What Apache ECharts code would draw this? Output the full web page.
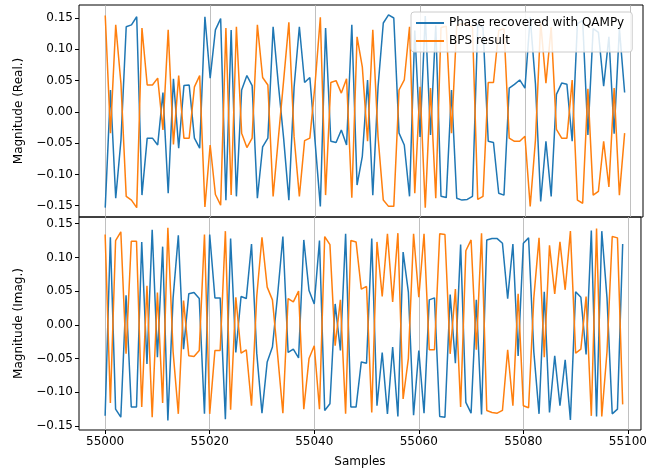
<!DOCTYPE html>
<html><head><meta charset="utf-8">
<script src="https://cdn.jsdelivr.net/npm/echarts@6/dist/echarts.min.js"></script>
<style>html,body{margin:0;padding:0;background:#fff}#c{width:650px;height:472px}</style>
</head><body><div id="c"></div>
<script>
const startSample = 55000;
const xTicks = [55000, 55020, 55040, 55060, 55080, 55100];
const yTicks = [-0.15, -0.10, -0.05, 0.00, 0.05, 0.10, 0.15];

const realQampy = [-0.153,0.035,-0.138,-0.045,0.136,0.139,0.152,-0.133,-0.042,-0.042,
-0.053,0.031,-0.130,0.053,-0.058,0.042,0.043,-0.042,-0.058,0.152,
0.054,0.131,0.149,-0.141,0.131,-0.135,0.035,0.058,0.042,-0.138,
-0.056,-0.042,0.136,0.044,-0.042,-0.141,0.040,0.136,0.047,0.055,
-0.048,-0.151,0.134,-0.047,-0.049,-0.029,-0.053,0.139,-0.117,-0.071,
0.051,-0.133,0.040,0.142,0.155,0.150,-0.034,-0.053,-0.135,0.130,
-0.040,0.153,-0.037,0.138,-0.135,-0.137,0.035,-0.138,-0.141,-0.140,
-0.135,0.140,0.135,-0.047,-0.049,-0.130,-0.133,0.038,0.044,0.051,
0.038,0.151,0.045,-0.143,-0.047,-0.135,0.028,0.046,0.044,-0.047,
0.141,0.146,-0.037,0.133,0.127,0.041,0.120,-0.035,0.133,0.031];

const realBps = [0.154,-0.034,0.139,0.045,-0.135,-0.141,-0.153,0.134,0.043,0.043,
0.054,-0.029,0.131,-0.052,0.058,-0.042,-0.042,0.040,0.058,-0.152,
-0.053,-0.132,-0.149,0.134,-0.133,0.136,-0.034,-0.057,-0.042,0.139,
0.055,0.043,-0.135,-0.042,0.050,0.143,-0.040,-0.135,-0.046,-0.042,
0.045,0.151,-0.133,0.047,0.050,0.030,0.053,-0.137,0.120,0.072,
-0.047,0.131,-0.040,-0.141,-0.151,-0.151,0.035,0.051,0.136,-0.130,
0.040,-0.153,0.038,-0.138,0.135,0.137,-0.034,0.138,0.141,0.140,
0.135,-0.140,-0.135,0.047,0.047,0.130,0.133,-0.042,-0.047,-0.047,
-0.039,-0.151,-0.045,0.143,0.046,0.135,-0.028,-0.042,-0.042,0.051,
-0.141,-0.146,0.037,-0.133,-0.127,-0.047,-0.120,0.038,-0.133,-0.034];

const imagQampy = [-0.135,0.130,-0.125,-0.137,0.044,-0.122,-0.122,0.123,-0.058,0.141,
-0.048,0.116,-0.142,0.040,0.133,-0.036,0.046,0.048,0.039,-0.132,
0.134,0.040,0.040,-0.140,0.128,-0.041,0.042,0.039,0.120,-0.042,
-0.131,-0.055,-0.033,0.045,0.131,-0.041,-0.036,-0.049,0.126,0.051,
0.031,0.125,-0.127,-0.117,0.031,-0.038,0.135,-0.122,-0.122,-0.055,
-0.057,0.128,-0.120,-0.041,-0.132,-0.033,-0.136,0.108,0.049,-0.134,
-0.038,-0.131,0.037,0.040,-0.136,-0.137,0.045,-0.057,0.119,-0.115,
-0.131,0.037,-0.133,0.126,0.128,0.128,0.121,0.039,0.120,-0.046,
0.121,0.129,-0.040,-0.132,0.049,-0.130,-0.046,-0.120,-0.052,-0.141,
0.049,0.041,-0.044,0.140,-0.136,0.139,0.040,-0.132,-0.125,0.120];

const imagBps = [0.134,-0.116,0.125,0.138,-0.043,0.124,0.124,-0.122,0.058,-0.137,
0.048,-0.116,0.144,-0.040,-0.132,0.036,-0.046,-0.047,-0.038,0.134,
-0.132,-0.038,-0.038,0.139,-0.126,0.041,-0.042,-0.037,-0.120,0.042,
0.130,0.056,0.037,-0.045,-0.131,0.039,0.034,0.050,-0.125,-0.050,
-0.031,-0.125,0.131,0.119,-0.031,0.037,-0.132,0.125,0.123,0.053,
0.057,-0.130,0.123,0.042,0.135,0.034,0.136,-0.110,-0.050,0.135,
0.041,0.135,-0.037,-0.037,0.135,0.134,-0.043,0.053,-0.122,0.110,
0.126,-0.037,0.136,-0.127,-0.130,-0.131,-0.127,-0.037,-0.120,0.046,
-0.120,-0.123,0.040,0.129,-0.048,0.118,0.046,0.123,0.052,0.139,
-0.042,-0.036,0.042,-0.135,0.143,-0.136,-0.040,0.131,0.129,-0.118];

const pairs = arr => arr.map((v, i) => [startSample + i, v]);
const FONT = 'DejaVu Sans';
const fmtY = v => v.toFixed(2).replace('-', '\u2212');

function yAxis(gi, min, max, name) {
  return {
    type: 'value', gridIndex: gi, min: min, max: max, name: name,
    nameLocation: 'middle', nameGap: 53, nameRotate: 90,
    nameTextStyle: {fontFamily: FONT, fontSize: 12, color: '#000'},
    axisLine: {show: false, onZero: false},
    axisTick: {show: true, length: 4, lineStyle: {color: '#000', width: 1}, customValues: yTicks},
    axisLabel: {fontFamily: FONT, fontSize: 12, color: '#000', margin: 6, formatter: fmtY, customValues: yTicks},
    splitLine: {show: false}
  };
}
function xAxis(gi, showLabels) {
  return {
    type: 'value', gridIndex: gi, position: 'bottom', min: 54995, max: 55102.5,
    name: showLabels ? 'Samples' : '', nameLocation: 'middle', nameGap: 26,
    nameTextStyle: {fontFamily: FONT, fontSize: 12, color: '#000'},
    axisLine: {show: false, onZero: false},
    axisTick: {show: showLabels, length: 4, lineStyle: {color: '#000', width: 1}, customValues: xTicks},
    axisLabel: {show: showLabels, fontFamily: FONT, fontSize: 12, color: '#000', margin: 6,
                formatter: v => String(v), customValues: xTicks},
    splitLine: {show: true, lineStyle: {color: '#b0b0b0', width: 0.8}}
  };
}
function line(name, data, color, xi, yi) {
  return {
    name: name, type: 'line', xAxisIndex: xi, yAxisIndex: yi, data: pairs(data),
    symbol: 'none', showSymbol: false, lineStyle: {color: color, width: 1.5}, itemStyle: {color: color},
    animation: false
  };
}
const chart = echarts.init(document.getElementById('c'), null, {renderer: 'canvas'});
chart.setOption({
  animation: false,
  grid: [
    {left: 79, right: 7, top: 5, height: 212, show: true, borderColor: '#000', borderWidth: 1, backgroundColor: 'transparent'},
    {left: 79, right: 7, top: 217, height: 213, show: true, borderColor: '#000', borderWidth: 1, backgroundColor: 'transparent'}
  ],
  xAxis: [xAxis(0, false), xAxis(1, true)],
  yAxis: [yAxis(0, -0.168, 0.1708, 'Magnitude (Real.)'), yAxis(1, -0.156, 0.160, 'Magnitude (Imag.)')],
  legend: {
    orient: 'vertical', left: 411, top: 12,
    data: ['Phase recovered with QAMPy', 'BPS result'],
    icon: 'rect', itemWidth: 28, itemHeight: 2, itemGap: 4, padding: [4, 8, 4, 5],
    backgroundColor: 'rgba(255,255,255,0.85)', borderColor: '#cccccc', borderWidth: 1, borderRadius: 3,
    textStyle: {fontFamily: FONT, fontSize: 12, color: '#000', lineHeight: 14}
  },
  series: [
    line('Phase recovered with QAMPy', realQampy, '#1f77b4', 0, 0),
    line('BPS result', realBps, '#ff7f0e', 0, 0),
    line('Phase recovered with QAMPy', imagQampy, '#1f77b4', 1, 1),
    line('BPS result', imagBps, '#ff7f0e', 1, 1)
  ]
});
</script></body></html>
